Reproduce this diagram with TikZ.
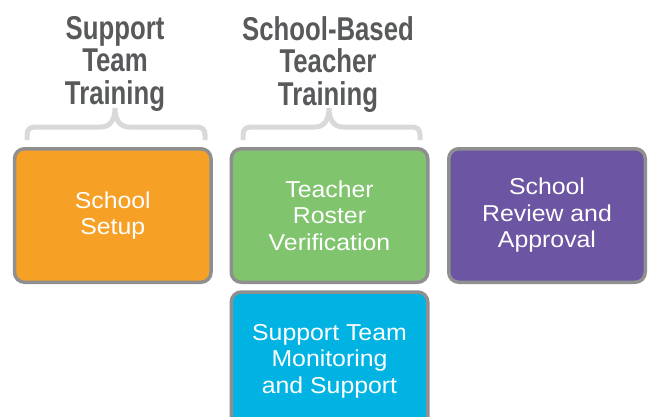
\documentclass[tikz,border=0pt]{standalone}
\usepackage{fontspec}
\setmainfont{Liberation Sans}
\newfontfamily\boxfont[FakeStretch=1.08]{Liberation Sans}
\newfontfamily\titlefont[FakeStretch=0.78]{Liberation Sans}
\definecolor{cOrange}{HTML}{F6A026}
\definecolor{cGreen}{HTML}{80C46E}
\definecolor{cPurple}{HTML}{6C55A3}
\definecolor{cBlue}{HTML}{00B3E3}
\definecolor{cBorder}{HTML}{8F8F8F}
\definecolor{cBrace}{HTML}{D9D9D9}
\definecolor{cTitle}{HTML}{58595B}
\tikzset{
  stagebox/.style={draw=cBorder, line width=3.5pt, rounded corners=10pt,
    minimum width=196.5pt, minimum height=133.5pt, inner sep=0pt,
    text=white, align=center, font=\boxfont\fontsize{23}{26.5}\selectfont},
  titletext/.style={text=cTitle, align=center, inner sep=0pt, anchor=north,
    font=\titlefont\bfseries\fontsize{33}{32.5}\selectfont},
  bracepath/.style={draw=cBrace, line width=5pt}
}
\begin{document}
\begin{tikzpicture}[x=1pt,y=-1pt]
\useasboundingbox (0,0) rectangle (649,416);
% boxes
\node[stagebox, fill=cOrange] (setup) at (112.75,215.5) {School\\Setup};
\node[stagebox, fill=cGreen] (roster) at (329.5,215.5) {Teacher\\Roster\\Verification};
\node[stagebox, fill=cPurple] (review) at (547,215.5) {School\\Review and\\Approval};
\node[stagebox, fill=cBlue, minimum height=138pt] (monitor) at (329.5,361) {Support Team\\Monitoring\\and Support};
% titles
\node[titletext] (t1) at (115,16) {Support\\Team\\Training};
\node[titletext] (t2) at (328,16) {School-Based\\Teacher\\Training};
% braces
\draw[bracepath] (27,140) -- (27,135) .. controls (27,129) and (30,127) .. (36,127)
  -- (101,127) .. controls (110,127) and (115,120) .. (115,108)
  .. controls (115,120) and (120,127) .. (129,127)
  -- (196,127) .. controls (202,127) and (205,129) .. (205,135) -- (205,140);
\draw[bracepath] (243,140) -- (243,135) .. controls (243,129) and (246,127) .. (252,127)
  -- (315,127) .. controls (324,127) and (329,120) .. (329,108)
  .. controls (329,120) and (334,127) .. (343,127)
  -- (411,127) .. controls (417,127) and (420,129) .. (420,135) -- (420,140);
\end{tikzpicture}
\end{document}
